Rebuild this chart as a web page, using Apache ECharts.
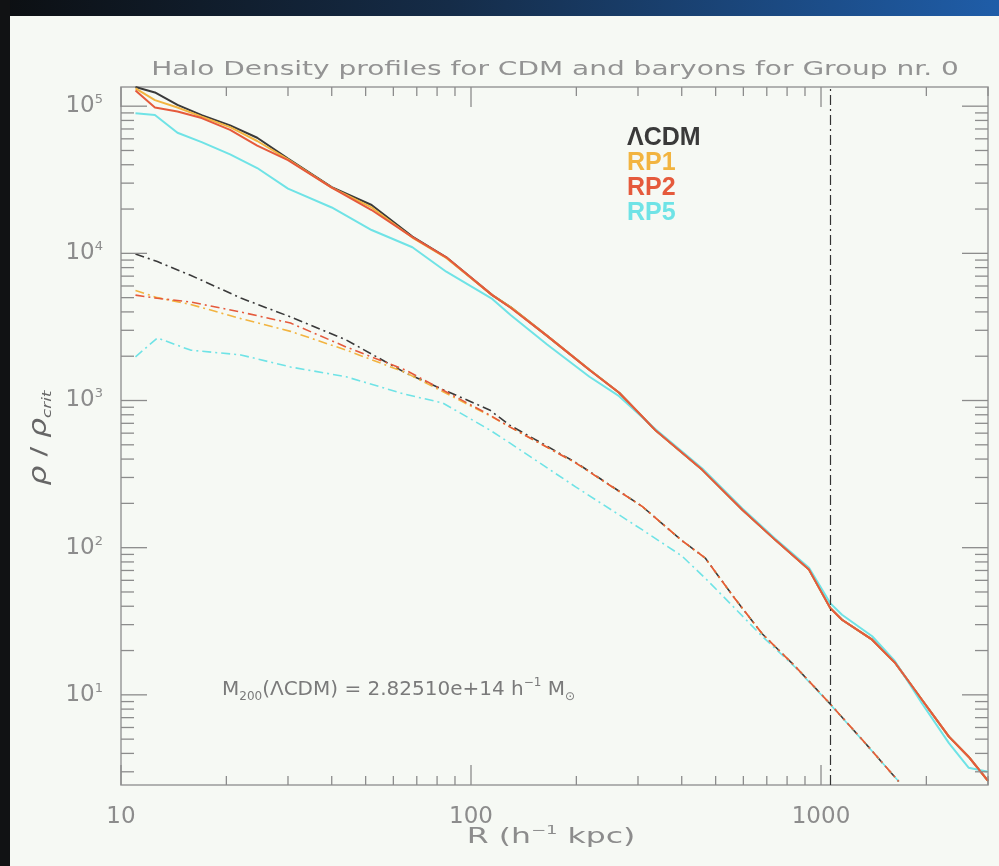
<!DOCTYPE html>
<html><head><meta charset="utf-8">
<script src="https://cdn.jsdelivr.net/npm/echarts@6/dist/echarts.min.js"></script>
<style>html,body{margin:0;padding:0;background:#f6f9f4}#c{width:999px;height:866px}</style>
</head><body><div id="c"></div><script>
// ---- data ----
const radiusDM = [11, 12.5, 14.5, 17, 20.5, 24.5, 30, 40, 52, 68, 85, 115, 130, 165, 218, 265, 336, 458, 596, 740, 924, 1062, 1148, 1400, 1625, 1940, 2320, 2640, 3000];
const rhoLCDM = [1.35e5, 1.24e5, 1.02e5, 8.7e4, 7.4e4, 6.1e4, 4.4e4, 2.82e4, 2.13e4, 1.30e4, 9.4e3, 5.2e3, 4.3e3, 2.75e3, 1.62e3, 1.13e3, 630, 338, 181, 113, 71, 39, 32.4, 23.7, 16.6, 9.3, 5.2, 3.8, 2.6];
const rhoRP1  = [1.32e5, 1.10e5, 9.8e4, 8.5e4, 7.2e4, 5.8e4, 4.35e4, 2.8e4, 2.05e4, 1.28e4, 9.3e3, 5.2e3, 4.3e3, 2.75e3, 1.62e3, 1.13e3, 630, 338, 181, 113, 71, 39, 32.4, 23.7, 16.6, 9.3, 5.2, 3.8, 2.6];
const rhoRP2  = [1.28e5, 9.8e4, 9.2e4, 8.3e4, 6.9e4, 5.4e4, 4.3e4, 2.8e4, 1.97e4, 1.29e4, 9.4e3, 5.2e3, 4.25e3, 2.75e3, 1.61e3, 1.13e3, 631, 338, 181, 113, 71, 39, 32.4, 23.7, 16.6, 9.3, 5.2, 3.8, 2.6];
const rhoRP5  = [8.96e4, 8.7e4, 6.6e4, 5.7e4, 4.7e4, 3.8e4, 2.75e4, 2.05e4, 1.44e4, 1.1e4, 7.5e3, 4.9e3, 3.8e3, 2.4e3, 1.45e3, 1.07e3, 640, 345, 185, 115, 73, 42, 35, 25, 17, 8.8, 4.7, 3.2, 3.0];

const radiusGas = [11, 12.7, 15.8, 22, 30.5, 44, 65, 83, 113, 129, 199, 309, 400, 467, 560, 679, 844, 1054, 1310, 1667];
const gasLCDM = [9.9e3, 8.8e3, 7.1e3, 4.97e3, 3.7e3, 2.58e3, 1.54e3, 1.19e3, 863, 680, 380, 190, 112, 85, 47, 26, 15.6, 8.85, 4.97, 2.58];
const gasRP1  = [5.6e3, 5.0e3, 4.5e3, 3.6e3, 2.95e3, 2.2e3, 1.55e3, 1.15e3, 790, 662, 377, 190, 112, 85, 47, 26, 15.6, 8.85, 4.97, 2.58];
const gasRP2  = [5.2e3, 4.95e3, 4.67e3, 3.99e3, 3.36e3, 2.31e3, 1.61e3, 1.18e3, 798, 662, 377, 190, 112, 85, 47, 26, 15.6, 8.85, 4.97, 2.58];
const gasRP5  = [1.98e3, 2.66e3, 2.2e3, 2.04e3, 1.69e3, 1.45e3, 1.1e3, 963, 632, 515, 259, 132, 88, 62, 40, 25, 15.4, 8.8, 4.95, 2.58];

const seriesNames = ['ΛCDM', 'RP1', 'RP2', 'RP5'];
const r200 = 1065;
const xTickLabels = {1: '10', 2: '100', 3: '1000'};
const yTickExponents = [1, 2, 3, 4, 5];
const X_MIN = 10, X_MAX = 3000, Y_MIN = 2.44, Y_MAX = 1.35e5;

// ---- styles ----
const colors = {'ΛCDM': '#3a3a3a', 'RP1': '#f2b440', 'RP2': '#e55a3c', 'RP5': '#6fe3e6'};
const axisGray = '#8c8c8c';
const txtFont = 'DejaVu Sans';

function pairs(xs, ys) { return xs.map((x, i) => [x, ys[i]]); }

// tick values (major = decades, minor = 2..9 x decade)
const tickData = [];
[10, 100, 1000].forEach(v => tickData.push([v, 1]));
[10, 100, 1000].forEach(d => { for (let m = 2; m <= 9; m++) { if (m * d <= X_MAX) tickData.push([m * d, 2]); } });
yTickExponents.forEach(e => tickData.push([Math.pow(10, e), 3]));
[1, 10, 100, 1000, 10000, 100000].forEach(d => { for (let m = 2; m <= 9; m++) { const v = m * d; if (v >= Y_MIN && v <= Y_MAX) tickData.push([v, 4]); } });

function isDecade(v) { const l = Math.log10(v); return Math.abs(l - Math.round(l)) < 1e-6 ? Math.round(l) : null; }

const solidSpecs = [['ΛCDM', rhoLCDM], ['RP1', rhoRP1], ['RP5', rhoRP5], ['RP2', rhoRP2]];
const gasSpecs = [['ΛCDM', gasLCDM], ['RP1', gasRP1], ['RP5', gasRP5], ['RP2', gasRP2]];

const series = [];
gasSpecs.forEach(([n, arr]) => series.push({
  name: n, type: 'line', symbol: 'none', silent: true,
  data: pairs(radiusGas, arr),
  lineStyle: {color: colors[n], width: 1.6, type: [9, 4, 2, 4]},
  itemStyle: {color: colors[n]}
}));
solidSpecs.forEach(([n, arr], i) => series.push({
  name: n, type: 'line', symbol: 'none', silent: true,
  data: pairs(radiusDM, arr),
  lineStyle: {color: colors[n], width: 2},
  itemStyle: {color: colors[n]},
  markLine: i === 0 ? {
    silent: true, symbol: 'none', animation: false, label: {show: false},
    lineStyle: {color: '#333', width: 1.2, type: [10, 4, 2, 4]},
    data: [{xAxis: r200}]
  } : undefined
}));
series.push({
  type: 'custom', silent: true, z: 10, clip: false,
  data: tickData,
  renderItem(params, api) {
    const v = api.value(0), k = api.value(1);
    const style = {stroke: axisGray, lineWidth: 1.3};
    if (k <= 2) {
      const len = k === 1 ? 20 : 9;
      const b = api.coord([v, Y_MIN]), t = api.coord([v, Y_MAX]);
      return {type: 'group', children: [
        {type: 'line', shape: {x1: b[0], y1: b[1], x2: b[0], y2: b[1] - len}, style},
        {type: 'line', shape: {x1: t[0], y1: t[1], x2: t[0], y2: t[1] + len}, style}
      ]};
    }
    const len = k === 3 ? 26 : 13;
    const l = api.coord([X_MIN, v]), r = api.coord([X_MAX, v]);
    return {type: 'group', children: [
      {type: 'line', shape: {x1: l[0], y1: l[1], x2: l[0] + len, y2: l[1]}, style},
      {type: 'line', shape: {x1: r[0], y1: r[1], x2: r[0] - len, y2: r[1]}, style}
    ]};
  }
});

const chart = echarts.init(document.getElementById('c'), null, {renderer: 'canvas'});
chart.setOption({
  animation: false,
  backgroundColor: '#f6f9f4',
  grid: {left: 121, right: 11, top: 87, bottom: 81, containLabel: false, outerBoundsMode: 'none',
         show: true, borderColor: '#9a9a9a', borderWidth: 1.5, backgroundColor: 'transparent'},
  legend: {
    orient: 'vertical', left: 617, top: 121, itemGap: 0, itemWidth: 0, itemHeight: 0,
    selectedMode: false, icon: 'rect',
    textStyle: {fontSize: 25, fontWeight: 'bold', fontFamily: 'Liberation Sans', lineHeight: 22},
    data: seriesNames.map(n => ({name: n, textStyle: {color: colors[n]}}))
  },
  xAxis: {
    type: 'log', logBase: 10, min: X_MIN, max: X_MAX,
    axisLine: {show: false}, axisTick: {show: false}, splitLine: {show: false},
    axisLabel: {
      margin: 21, color: axisGray, fontSize: 23, fontFamily: txtFont,
      formatter: v => { const e = isDecade(v); return (e !== null && xTickLabels[e]) ? xTickLabels[e] : ''; }
    }
  },
  yAxis: {
    type: 'log', logBase: 10, min: Y_MIN, max: Y_MAX,
    axisLine: {show: false}, axisTick: {show: false}, splitLine: {show: false},
    axisLabel: {
      margin: 18, color: axisGray, fontFamily: txtFont,
      formatter: v => { const e = isDecade(v); return (e !== null && yTickExponents.indexOf(e) >= 0) ? '{b|10}{s|' + e + '}' : ''; },
      rich: {
        b: {fontSize: 23, fontFamily: txtFont, color: axisGray, lineHeight: 26},
        s: {fontSize: 13, fontFamily: txtFont, color: axisGray, verticalAlign: 'top', lineHeight: 13}
      }
    }
  },
  graphic: [
    {type: 'rect', z: 100, shape: {x: 0, y: 0, width: 999, height: 16}, silent: true,
     style: {fill: new echarts.graphic.LinearGradient(0, 0, 1, 0, [{offset: 0, color: '#0c0f12'}, {offset: 0.45, color: '#152c48'}, {offset: 1, color: '#1f5da8'}])}},
    {type: 'rect', z: 100, shape: {x: 0, y: 0, width: 10, height: 866}, silent: true, style: {fill: '#111214'}},
    {type: 'text', x: 555, y: 70, scaleX: 1.4, silent: true,
     style: {text: 'Halo Density profiles for CDM and baryons for Group nr. 0', font: '20px "DejaVu Sans"', fill: '#939393', align: 'center', verticalAlign: 'middle'}},
    {type: 'text', x: 551, y: 838, scaleX: 1.5, silent: true,
     style: {text: '{a|R (h}{p|−1}{a| kpc)}', align: 'center', verticalAlign: 'middle',
       rich: {a: {fontSize: 21, fontFamily: txtFont, fill: axisGray, lineHeight: 26}, p: {fontSize: 12, fontFamily: txtFont, fill: axisGray, verticalAlign: 'top', lineHeight: 12}}}},
    {type: 'text', x: 40, y: 438, rotation: Math.PI / 2, scaleX: 1.3, silent: true,
     style: {text: '{r|ρ}{a| / }{r|ρ}{c|crit}', align: 'center', verticalAlign: 'middle',
       rich: {r: {fontSize: 24, fontStyle: 'italic', fontFamily: txtFont, fill: '#666', lineHeight: 28},
              a: {fontSize: 22, fontFamily: txtFont, fill: '#666', lineHeight: 28},
              c: {fontSize: 13, fontStyle: 'italic', fontFamily: txtFont, fill: '#666', verticalAlign: 'bottom', lineHeight: 13}}}},
    {type: 'text', x: 222, y: 690, silent: true,
     style: {text: '{a|M}{b|200}{a|(ΛCDM) = 2.82510e+14 h}{p|−1}{a| M}{b|⊙}', align: 'left', verticalAlign: 'middle',
       rich: {a: {fontSize: 20, fontFamily: txtFont, fill: '#7a7a7a', lineHeight: 26},
              b: {fontSize: 12, fontFamily: txtFont, fill: '#7a7a7a', verticalAlign: 'bottom', lineHeight: 12},
              p: {fontSize: 12, fontFamily: txtFont, fill: '#7a7a7a', verticalAlign: 'top', lineHeight: 12}}}}
  ],
  series
});
</script></body></html>
